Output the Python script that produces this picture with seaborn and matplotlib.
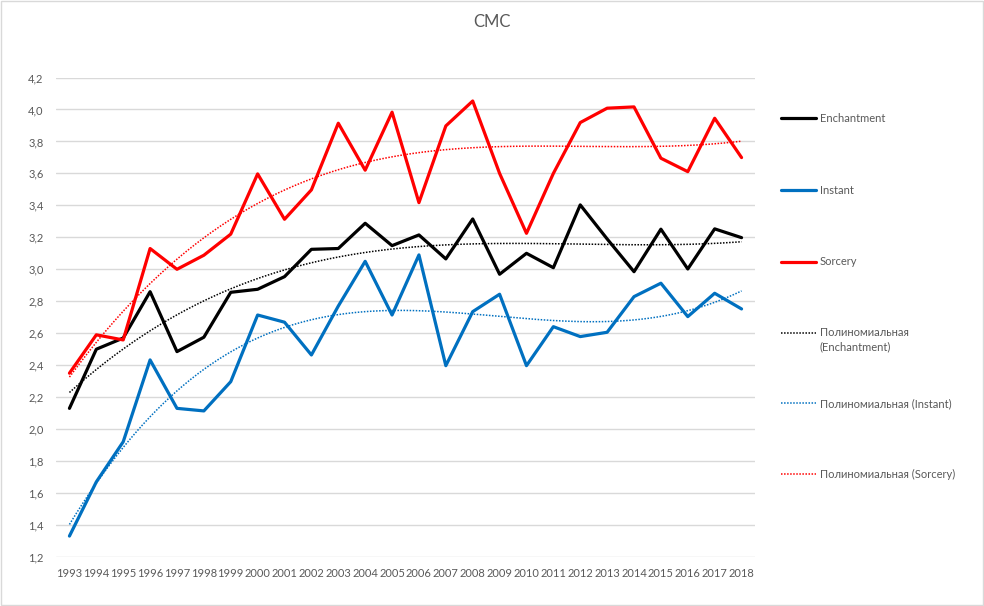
import numpy as np
import pandas as pd
import matplotlib
matplotlib.use("Agg")
import matplotlib.pyplot as plt
from matplotlib.lines import Line2D
from matplotlib.patches import Rectangle
from matplotlib.ticker import FuncFormatter, MultipleLocator
import seaborn as sns

years = list(range(1993, 2019))
enchantment = [2.13, 2.50, 2.57, 2.86, 2.485, 2.575, 2.856, 2.875, 2.954, 3.125,
               3.13, 3.288, 3.148, 3.215, 3.065, 3.315, 2.969, 3.10, 3.01, 3.403,
               3.19, 2.985, 3.251, 3.002, 3.253, 3.198]
instant = [1.331, 1.67, 1.921, 2.433, 2.13, 2.114, 2.297, 2.714, 2.669, 2.464,
           2.77, 3.05, 2.714, 3.09, 2.397, 2.735, 2.844, 2.397, 2.641, 2.579,
           2.606, 2.829, 2.913, 2.704, 2.85, 2.752]
sorcery = [2.35, 2.59, 2.558, 3.13, 3.00, 3.088, 3.22, 3.597, 3.313, 3.497,
           3.914, 3.62, 3.983, 3.417, 3.897, 4.053, 3.60, 3.225, 3.60, 3.918,
           4.008, 4.016, 3.695, 3.611, 3.945, 3.699]

series_names = ["Enchantment", "Instant", "Sorcery"]
series_values = [enchantment, instant, sorcery]
series_colors = ["#000000", "#0070C0", "#FF0000"]
trend_prefix = "Полиномиальная"
title = "CMC"
poly_degree = 3

sns.set_style("white")
plt.rcParams['font.family'] = ['Lato', 'DejaVu Sans']

fig = plt.figure(figsize=(9.84, 6.06), dpi=100)
ax = fig.add_axes([56 / 984, 1 - 557 / 606, (755 - 56) / 984, (557 - 77.5) / 606])

rows = []
for name, vals in zip(series_names, series_values):
    for y, v in zip(years, vals):
        rows.append({"year": y, "value": v, "series": name})
df = pd.DataFrame(rows)

palette = dict(zip(series_names, series_colors))
sns.lineplot(data=df, x="year", y="value", hue="series", palette=palette,
             linewidth=2.3, ax=ax, legend=False, zorder=3)

# polynomial trendlines fitted to the data
xs = np.linspace(years[0], years[-1], 300)
trend_rows = []
for name, vals in zip(series_names, series_values):
    xc = np.array(years) - np.mean(years)
    coef = np.polyfit(xc, vals, poly_degree)
    ys = np.polyval(coef, xs - np.mean(years))
    for xv, yv in zip(xs, ys):
        trend_rows.append({"year": xv, "value": yv, "series": name})
tdf = pd.DataFrame(trend_rows)
for name, col in zip(series_names, series_colors):
    sub = tdf[tdf.series == name]
    sns.lineplot(data=sub, x="year", y="value", color=col, linewidth=1.1,
                 linestyle=(0, (1, 1)), ax=ax, zorder=4)

ax.set_xlim(1992.5, 2018.5)
ax.set_ylim(1.2, 4.2)
ax.yaxis.set_major_locator(MultipleLocator(0.2))
ax.yaxis.set_major_formatter(FuncFormatter(lambda v, p: f"{v:.1f}".replace(".", ",")))
ax.set_xticks(years)
ax.set_xticklabels([str(y) for y in years])
ax.grid(axis="y", color="#D9D9D9", linewidth=1.0)
ax.grid(axis="x", visible=False)
for s in ax.spines.values():
    s.set_visible(False)
ax.tick_params(axis="both", length=0, labelsize=8, colors="#595959")
ax.tick_params(axis="y", pad=9)
ax.tick_params(axis="x", pad=8)
ax.set_xlabel("")
ax.set_ylabel("")

fig.text(492 / 984, 1 - 22 / 606, title, ha="center", va="center",
         fontsize=12, color="#595959")

# legend
labels = series_names + [f"{trend_prefix}\n({n})" if n == "Enchantment" else f"{trend_prefix} ({n})"
                         for n in series_names]
styles = [("-", 2.3)] * 3 + [((0, (1, 1)), 1.1)] * 3
colors = series_colors * 2
ys_leg = [118, 190, 261.5, 332.5, 403, 474]
for lab, (ls, lw), c, yp in zip(labels, styles, colors, ys_leg):
    yf = 1 - yp / 606
    fig.add_artist(Line2D([781 / 984, 816 / 984], [yf, yf], color=c,
                          linestyle=ls, linewidth=lw, transform=fig.transFigure))
    fig.text(820 / 984, yf + 5 / 606, lab, ha="left", va="top", fontsize=8,
             color="#595959", linespacing=1.35)

fig.add_artist(Rectangle((1 / 984, 1 / 606), 982 / 984, 604 / 606,
                         transform=fig.transFigure, fill=False,
                         edgecolor="#D9D9D9", linewidth=1.0))

fig.savefig("out.png", dpi=100)
